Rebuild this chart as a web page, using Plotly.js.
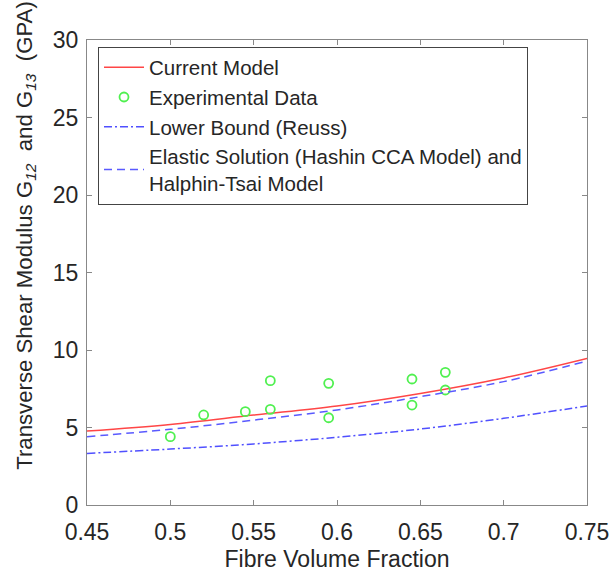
<!DOCTYPE html>
<html><head><meta charset="utf-8">
<script src="https://cdn.plot.ly/plotly-3.0.1.min.js"></script>
<style>html,body{margin:0;padding:0;background:#fff}#chart{width:615px;height:575px}</style>
</head><body><div id="chart"></div>
<script>
const modelX = [0.45, 0.50, 0.55, 0.60, 0.65, 0.70, 0.75];
const currentModel = [4.77, 5.20, 5.80, 6.39, 7.20, 8.20, 9.46];
const hashinModel = [4.41, 4.88, 5.48, 6.13, 6.99, 7.96, 9.29];
const reussBound = [3.33, 3.61, 3.94, 4.37, 4.90, 5.59, 6.39];
const expX = [0.50, 0.52, 0.545, 0.56, 0.56, 0.595, 0.595, 0.645, 0.645, 0.665, 0.665];
const expY = [4.41, 5.81, 6.02, 8.02, 6.17, 7.85, 5.63, 8.13, 6.45, 8.56, 7.42];
const xTicks = [0.45, 0.5, 0.55, 0.6, 0.65, 0.7, 0.75];
const xTickText = ['0.45', '0.5', '0.55', '0.6', '0.65', '0.7', '0.75'];
const yTicks = [0, 5, 10, 15, 20, 25, 30];

const font = {family: 'Liberation Sans, Arial, sans-serif', color: '#262626'};
const traces = [
  {x: modelX, y: currentModel, mode: 'lines', name: 'Current Model', line: {color: 'rgb(255,70,70)', width: 1.5, shape: 'spline'}},
  {x: expX, y: expY, mode: 'markers', name: 'Experimental Data', marker: {symbol: 'circle-open', size: 9, color: 'rgb(80,240,80)', line: {width: 1.8}}},
  {x: modelX, y: reussBound, mode: 'lines', name: 'Lower Bound (Reuss)', line: {color: 'rgb(80,80,255)', width: 1.5, dash: '8px,3px,2px,3px', shape: 'spline'}},
  {x: modelX, y: hashinModel, mode: 'lines', name: 'Elastic Solution (Hashin CCA Model) and<br>Halphin-Tsai Model', line: {color: 'rgb(90,90,255)', width: 1.5, dash: '8px,5px', shape: 'spline'}}
];
const axisCommon = {showgrid: false, zeroline: false, showline: true, linecolor: '#888', linewidth: 1, mirror: 'ticks', ticks: 'inside', ticklen: 5, tickcolor: '#888', tickfont: Object.assign({size: 23}, font)};
const layout = {
  width: 615, height: 575,
  margin: {l: 87, r: 28, t: 40, b: 70},
  paper_bgcolor: '#fff', plot_bgcolor: '#fff',
  showlegend: true,
  legend: {x: 0.022, y: 0.986, xanchor: 'left', yanchor: 'top', bgcolor: '#fff', bordercolor: '#444', borderwidth: 1, font: Object.assign({size: 20.5}, font), tracegroupgap: 0, itemwidth: 40},
  xaxis: Object.assign({}, axisCommon, {range: [0.45, 0.75], tickvals: xTicks, ticktext: xTickText, ticklabelstandoff: 6, title: {text: 'Fibre Volume Fraction', font: Object.assign({size: 23}, font), standoff: 7}}),
  yaxis: Object.assign({}, axisCommon, {range: [0, 30], tickvals: yTicks, ticklabelstandoff: 3, title: {text: '&nbsp;&nbsp;&nbsp;&nbsp;&nbsp;&nbsp;&nbsp;&nbsp;&nbsp;&nbsp;&nbsp;&nbsp;Transverse Shear Modulus G<sub><i>12</i></sub>  and G<sub><i>13</i></sub>  (GPA)', font: Object.assign({size: 22.2}, font), standoff: 14}})
};
Plotly.newPlot('chart', traces, layout, {displayModeBar: false, staticPlot: true});
</script></body></html>
